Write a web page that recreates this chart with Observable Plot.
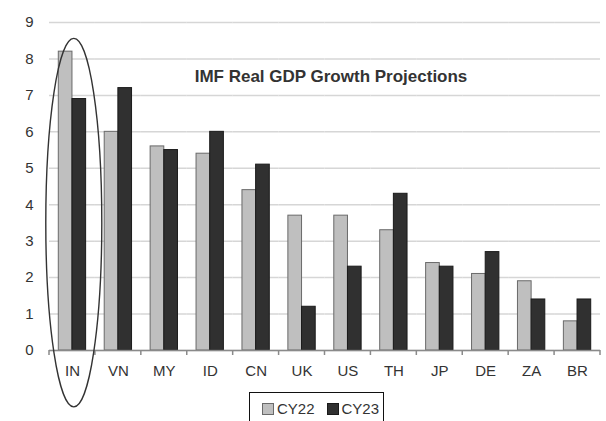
<!DOCTYPE html>
<html>
<head>
<meta charset="utf-8">
<script src="https://cdn.jsdelivr.net/npm/d3@7"></script>
<script src="https://cdn.jsdelivr.net/npm/@observablehq/plot@0.6"></script>
<style>
  html, body { margin: 0; padding: 0; background: #fff; overflow: hidden; }
  #wrap { position: relative; width: 606px; height: 421px; font-family: "Liberation Sans", Arial, sans-serif; }
  #wrap svg { overflow: visible; }
  #title { position: absolute; left: 331px; top: 67px; transform: translateX(-50%); white-space: nowrap;
           font-weight: bold; font-size: 17px; color: #333; }
  #legend { position: absolute; left: 249px; top: 392px; width: 135px; height: 40px; border: 1.5px solid #111;
            display: flex; align-items: flex-start; padding-top: 7px; box-sizing: border-box; font-size: 15px; color: #333; }
  .item { display: flex; align-items: center; }
  .sw { width: 12px; height: 12px; box-sizing: border-box; margin-right: 3px; }
</style>
</head>
<body>
<div id="wrap">
  <div id="chart"></div>
  <div id="title"></div>
  <div id="legend"></div>
</div>
<script>
const title = "IMF Real GDP Growth Projections";
const countries = ["IN","VN","MY","ID","CN","UK","US","TH","JP","DE","ZA","BR"];
const seriesNames = ["CY22","CY23"];
const cy22 = [8.2,6.0,5.6,5.4,4.4,3.7,3.7,3.3,2.4,2.1,1.9,0.8];
const cy23 = [6.9,7.2,5.5,6.0,5.1,1.2,2.3,4.3,2.3,2.7,1.4,1.4];
const yTicks = [0,1,2,3,4,5,6,7,8,9];
const fills = ["#bfbfbf","#303030"];
const strokes = ["#6a6a6a","#1a1a1a"];
// highlighted category (ellipse annotation), in data units
const highlight = "IN";
const ellipseTop = 8.55, ellipseBottom = -1.56;

const rows = countries.flatMap((c, i) => [
  {country: c, series: seriesNames[0], value: cy22[i]},
  {country: c, series: seriesNames[1], value: cy23[i]}
]);

const W = 606, H = 390, mL = 49, mR = 6, mT = 22, mB = 35;
const axisColor = "#8a8a8a";

const plot = Plot.plot({
  width: W, height: H,
  marginLeft: mL, marginRight: mR, marginTop: mT, marginBottom: mB,
  style: {fontFamily: "'Liberation Sans', Arial, sans-serif", fontSize: "15px", color: "#333", background: "#fff"},
  fx: {domain: countries, padding: 0, round: false, label: null},
  x: {domain: seriesNames, paddingInner: 0, paddingOuter: 0.68, round: false, axis: null},
  y: {domain: [0, 9], insetBottom: 5, label: null},
  color: {domain: seriesNames, range: fills},
  marks: [
    Plot.gridY(yTicks, {stroke: "#d6d6d6", strokeOpacity: 1, strokeWidth: 1.5}),
    Plot.axisY(yTicks, {tickSize: 0, tickPadding: 16, fontSize: 15, fill: "#333", label: null}),
    Plot.axisFx({anchor: "bottom", tickSize: 0, tickPadding: 10, fontSize: 15, fill: "#333", label: null}),
    Plot.barY(rows, {fx: "country", x: "series", y: "value", fill: "series",
      stroke: d => strokes[seriesNames.indexOf(d.series)], strokeWidth: 1, insetLeft: 0, insetRight: 0}),
    Plot.ruleY([0], {stroke: axisColor, strokeWidth: 1.5})
  ]
});

// boundary ticks + ellipse from the plot's own scales
const fx = plot.scale("fx"), y = plot.scale("y");
const g = d3.select(plot).append("g");
const y0 = y.apply(0);
const bounds = countries.map(c => fx.apply(c)).concat([fx.apply(countries[countries.length - 1]) + fx.bandwidth]);
g.selectAll("line").data(bounds).join("line")
  .attr("x1", d => d).attr("x2", d => d).attr("y1", y0).attr("y2", y0 + 5)
  .attr("stroke", axisColor).attr("stroke-width", 1.5);
const yt = y.apply(ellipseTop), yb = y.apply(ellipseBottom);
g.append("ellipse")
  .attr("cx", fx.apply(highlight) + fx.bandwidth * 0.54)
  .attr("cy", (yt + yb) / 2)
  .attr("rx", fx.bandwidth * 0.61)
  .attr("ry", (yb - yt) / 2)
  .attr("fill", "none").attr("stroke", "#333").attr("stroke-width", 1.4);

document.getElementById("chart").appendChild(plot);
document.getElementById("title").textContent = title;

const legend = d3.select("#legend");
seriesNames.forEach((s, i) => {
  const it = legend.append("div").attr("class", "item").style("margin-left", "12px");
  it.append("div").attr("class", "sw").style("background", fills[i]).style("border", `1px solid ${strokes[i]}`);
  it.append("span").text(s);
});
</script>
</body>
</html>
